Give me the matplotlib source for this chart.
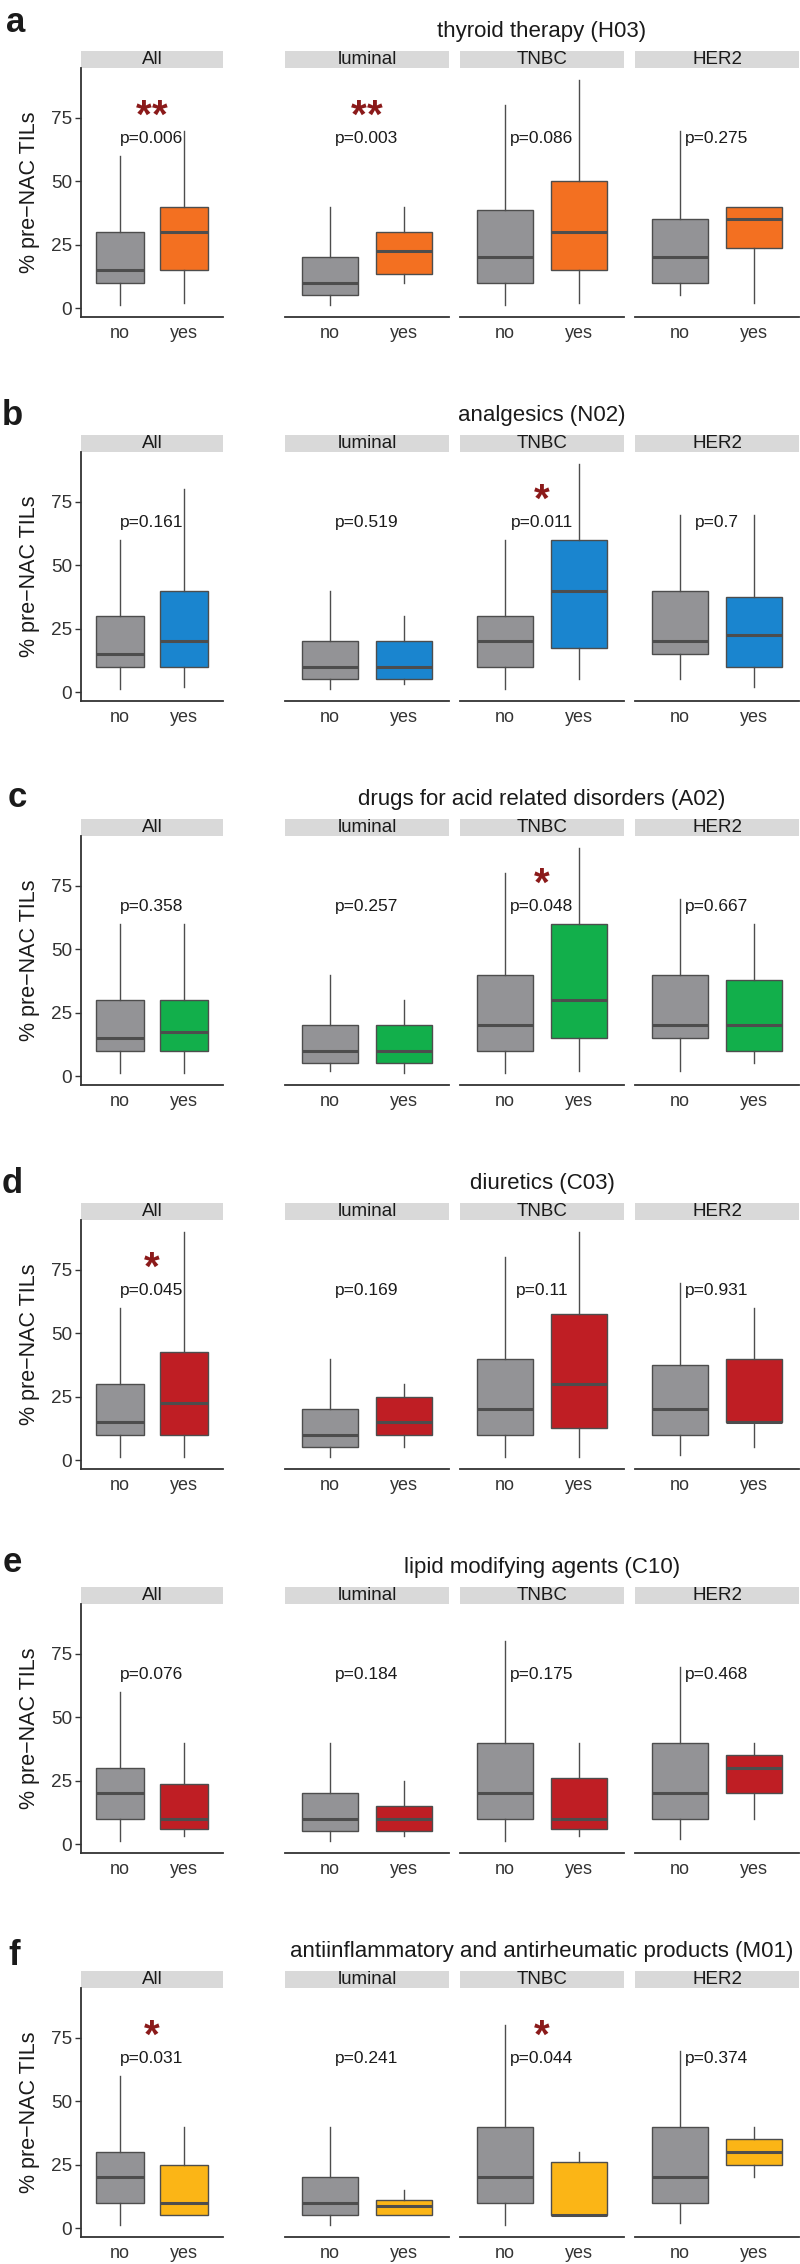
import matplotlib
matplotlib.use("Agg")
import matplotlib.pyplot as plt
from matplotlib.patches import Rectangle

plt.rcParams['font.family'] = ['Liberation Sans', 'DejaVu Sans']
plt.rcParams['mathtext.fontset'] = 'custom'
plt.rcParams['mathtext.rm'] = 'Liberation Sans'
plt.rcParams['mathtext.bf'] = 'Liberation Sans:bold'

# ---------------- data ----------------
panel_letters = ["a", "b", "c", "d", "e", "f"]
drug_titles = [
    "thyroid therapy (H03)",
    "analgesics (N02)",
    "drugs for acid related disorders (A02)",
    "diuretics (C03)",
    "lipid modifying agents (C10)",
    "antiinflammatory and antirheumatic products (M01)",
]
subgroups = ["All", "luminal", "TNBC", "HER2"]
groups = ["no", "yes"]
y_ticks = [0, 25, 50, 75]
y_label = "% pre\u2212NAC TILs"

# box stats per subgroup: [whisker low, q1, median, q3, whisker high]
thyroid_no = [[1, 10, 15, 30, 60], [1, 5, 10, 20, 40], [1, 10, 20, 38.7, 80], [5, 10, 20, 35, 70]]
thyroid_yes = [[2, 15, 30, 40, 70], [10, 13.5, 22.5, 30, 40], [2, 15, 30, 50, 90], [2, 23.7, 35, 40, 40]]
analgesics_no = [[1, 10, 15, 30, 60], [1, 5, 10, 20, 40], [1, 10, 20, 30, 60], [5, 15, 20, 40, 70]]
analgesics_yes = [[2, 10, 20, 40, 80], [3, 5, 10, 20, 30], [5, 17.3, 40, 60, 90], [2, 10, 22.3, 37.4, 70]]
acid_no = [[1, 10, 15, 30, 60], [2, 5, 10, 20, 40], [1, 10, 20, 40, 80], [2, 15, 20, 40, 70]]
acid_yes = [[1, 10, 17.5, 30, 60], [1, 5, 10, 20, 30], [2, 15, 30, 60, 90], [5, 10, 20, 37.7, 60]]
diuretics_no = [[1, 10, 15, 30, 60], [1, 5, 10, 20, 40], [1, 10, 20, 40, 80], [2, 10, 20, 37.3, 70]]
diuretics_yes = [[1, 10, 22.5, 42.5, 90], [5, 10, 15, 25, 30], [1, 12.5, 30, 57.5, 90], [5, 15, 15, 40, 60]]
lipid_no = [[1, 10, 20, 30, 60], [1, 5, 10, 20, 40], [1, 10, 20, 40, 80], [2, 10, 20, 40, 70]]
lipid_yes = [[3, 6, 10, 23.7, 40], [3, 5, 10, 15, 25], [3, 6, 10, 26.2, 40], [10, 20, 30, 35, 40]]
antiinfl_no = [[1, 10, 20, 30, 60], [1, 5, 10, 20, 40], [1, 10, 20, 40, 80], [2, 10, 20, 40, 70]]
antiinfl_yes = [[5, 5, 10, 25, 40], [5, 5, 8.5, 11, 15], [5, 5, 5, 26.2, 30], [20, 25, 30, 35, 40]]

no_stats = [thyroid_no, analgesics_no, acid_no, diuretics_no, lipid_no, antiinfl_no]
yes_stats = [thyroid_yes, analgesics_yes, acid_yes, diuretics_yes, lipid_yes, antiinfl_yes]

p_values = [
    ["0.006", "0.003", "0.086", "0.275"],
    ["0.161", "0.519", "0.011", "0.7"],
    ["0.358", "0.257", "0.048", "0.667"],
    ["0.045", "0.169", "0.11", "0.931"],
    ["0.076", "0.184", "0.175", "0.468"],
    ["0.031", "0.241", "0.044", "0.374"],
]
stars = [
    ["**", "**", "", ""],
    ["", "", "*", ""],
    ["", "", "*", ""],
    ["*", "", "", ""],
    ["", "", "", ""],
    ["*", "", "*", ""],
]
yes_colors = ["#F37021", "#1A85CF", "#12AF4B", "#BF1E24", "#BF1E24", "#FBB516"]
no_color = "#939396"

# ---------------- layout (pixels) ----------------
W, H, DPI = 800, 2264, 100
facet_x = [(81, 223), (285, 449), (460, 624), (635, 799)]
panel_step = 384
ax_top, ax_bot = 68, 317
strip_h = 17
title_base = 37
letter_x = [6, 2, 8, 2, 3, 8]
letter_base = [32, 425, 807, 1193, 1572, 1965]
ylim = (-3.55, 94.7)

fig = plt.figure(figsize=(W / DPI, H / DPI), dpi=DPI)
fig.patch.set_facecolor("white")

edge = "#4D4D4D"
axcol = "#333333"

for k in range(6):
    dy = panel_step * k
    for j, sg in enumerate(subgroups):
        x0, x1 = facet_x[j]
        top, bot = ax_top + dy, ax_bot + dy
        ax = fig.add_axes([x0 / W, 1 - bot / H, (x1 - x0) / W, (bot - top) / H])
        stats = []
        for g, arr in zip(groups, [no_stats[k][j], yes_stats[k][j]]):
            lo, q1, med, q3, hi = arr
            stats.append(dict(label=g, whislo=lo, q1=q1, med=med, q3=q3, whishi=hi, fliers=[]))
        bp = ax.bxp(stats, positions=[1, 2], widths=0.75, patch_artist=True,
                    showcaps=False, showfliers=False,
                    boxprops=dict(edgecolor=edge, linewidth=1.0),
                    whiskerprops=dict(color=edge, linewidth=1.0),
                    medianprops=dict(color=edge, linewidth=2.2, solid_capstyle='butt'))
        bp['boxes'][0].set_facecolor(no_color)
        bp['boxes'][1].set_facecolor(yes_colors[k])
        for b in bp['boxes']:
            b.set_zorder(2)
        for m in bp['medians']:
            m.set_zorder(3)
        ax.set_xlim(0.4, 2.6)
        ax.set_ylim(*ylim)
        for s in ["top", "right"]:
            ax.spines[s].set_visible(False)
        ax.spines["bottom"].set_color(axcol)
        ax.spines["bottom"].set_linewidth(1.3)
        if j == 0:
            ax.spines["left"].set_color(axcol)
            ax.spines["left"].set_linewidth(1.3)
            ax.set_yticks(y_ticks)
            ax.set_yticklabels([str(t) for t in y_ticks], fontsize=13.7, color=axcol)
            ax.tick_params(axis="y", length=4, width=1.0, color=axcol, pad=2.5)
        else:
            ax.spines["left"].set_visible(False)
            ax.set_yticks([])
        ax.set_xticks([1, 2])
        ax.set_xticklabels(groups, fontsize=13, color=axcol)
        ax.tick_params(axis="x", length=0, pad=6)
        ax.patch.set_alpha(0)
        # strip
        ax.add_patch(Rectangle((0, 1), 1, strip_h / (bot - top), transform=ax.transAxes,
                               facecolor="#D9D9D9", edgecolor="none", clip_on=False))
        ax.text(0.5, 1 + strip_h / 2 / (bot - top), sg, transform=ax.transAxes,
                ha="center", va="center", fontsize=13.5, color="#1A1A1A")
        # p-value and stars
        ax.text(1.5, 67, "p=" + p_values[k][j], ha="center", va="center",
                fontsize=12.5, color="#1A1A1A", zorder=4)
        if stars[k][j]:
            star_tex = r"$\mathbf{" + stars[k][j].replace("*", r"*\!") + "}$"
            ax.text(1.5, 76, star_tex, ha="center", va="center",
                    fontsize=29, color="#8B1A1A", zorder=4)
    # y label
    fig.text(30 / W, 1 - (192.5 + dy) / H, y_label, rotation=90, ha="center", va="center",
             fontsize=15.5, color="#1A1A1A")
    # title
    fig.text(542 / W, 1 - (title_base + dy) / H, drug_titles[k], ha="center", va="baseline",
             fontsize=16, color="#1A1A1A")
    # panel letter
    fig.text(letter_x[k] / W, 1 - letter_base[k] / H, panel_letters[k], ha="left", va="baseline",
             fontsize=25, fontweight="bold", color="#1A1A1A")

fig.savefig("out.png", dpi=DPI, facecolor="white")
